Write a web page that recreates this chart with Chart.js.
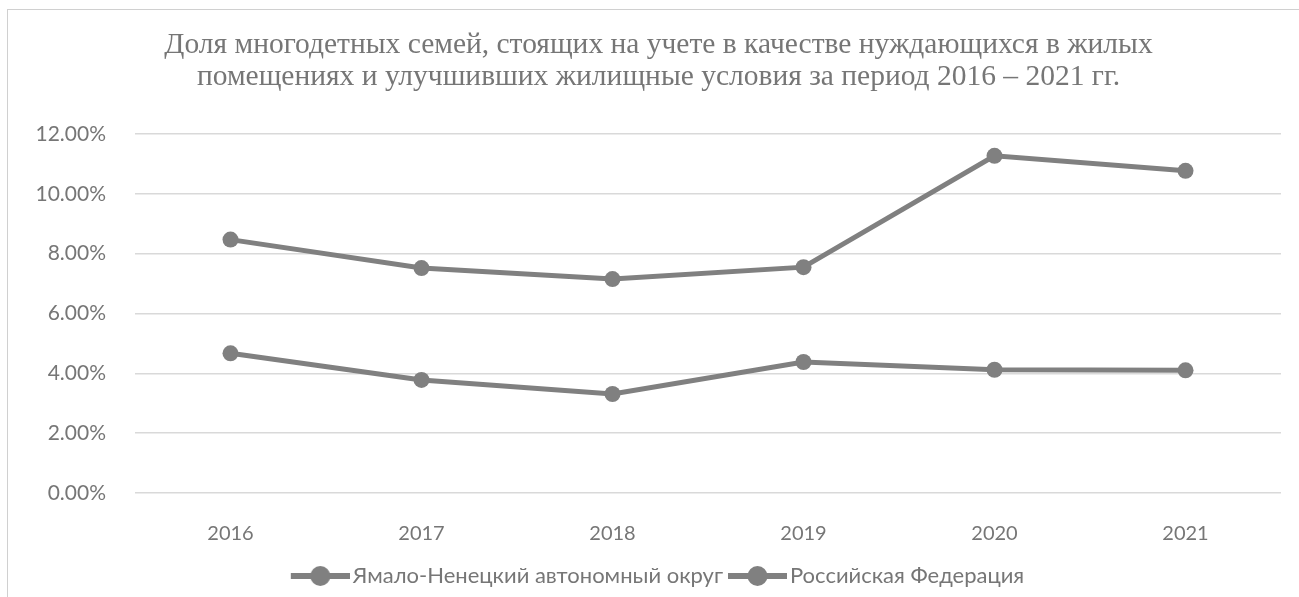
<!DOCTYPE html>
<html>
<head>
<meta charset="utf-8">
<script src="https://cdn.jsdelivr.net/npm/chart.js@4/dist/chart.umd.min.js"></script>
<style>
  html, body { margin: 0; padding: 0; background: #fff; }
  canvas { display: block; }
</style>
</head>
<body>
<canvas id="diagramm" width="1299" height="597"></canvas>
<script>
const jahre = ['2016', '2017', '2018', '2019', '2020', '2021'];
const yanao = [8.47, 7.52, 7.15, 7.55, 11.27, 10.77];
const russland = [4.67, 3.78, 3.31, 4.38, 4.12, 4.1];
const serienNamen = ['Ямало-Ненецкий автономный округ', 'Российская Федерация'];
const titelZeilen = [
  'Доля многодетных семей, стоящих на учете в качестве нуждающихся в жилых',
  'помещениях и улучшивших жилищные условия за период 2016 – 2021 гг.'
];

const grau = '#808080';
const textGrau = '#767676';

// Legendensymbol: Linie mit Punkt in der Mitte (links etwas leerer Rand)
const symbol = document.createElement('canvas');
symbol.width = 65;
symbol.height = 24;
(function () {
  const c = symbol.getContext('2d');
  c.strokeStyle = grau;
  c.lineWidth = 6;
  c.beginPath();
  c.moveTo(6, 12);
  c.lineTo(65, 12);
  c.stroke();
  c.fillStyle = grau;
  c.beginPath();
  c.arc(35.5, 12, 10, 0, Math.PI * 2);
  c.fill();
})();

const rahmen = {
  id: 'rahmen',
  beforeDraw(chart) {
    const c = chart.ctx;
    c.save();
    c.fillStyle = '#fff';
    c.fillRect(0, 0, chart.width, chart.height);
    c.strokeStyle = '#d0d0d0';
    c.lineWidth = 1;
    c.strokeRect(7.5, 9.5, 1310, 600);
    c.restore();
  }
};

function linie(name, werte) {
  return {
    label: name,
    data: werte,
    borderColor: grau,
    backgroundColor: grau,
    borderWidth: 5,
    pointRadius: 8,
    pointHoverRadius: 8,
    pointBackgroundColor: grau,
    pointBorderColor: grau,
    pointBorderWidth: 0,
    tension: 0
  };
}

new Chart(document.getElementById('diagramm').getContext('2d'), {
  type: 'line',
  data: {
    labels: jahre,
    datasets: [linie(serienNamen[0], yanao), linie(serienNamen[1], russland)]
  },
  options: {
    responsive: false,
    animation: false,
    layout: { padding: { left: 36, right: 18, top: 0, bottom: 0 } },
    plugins: {
      title: {
        display: true,
        text: titelZeilen,
        color: textGrau,
        font: { family: '"Liberation Serif", "DejaVu Serif", serif', size: 29.5, weight: 'normal', lineHeight: 1.085 },
        padding: { top: 29, bottom: 41 }
      },
      legend: {
        position: 'bottom',
        labels: {
          usePointStyle: true,
          pointStyleWidth: 49,
          padding: 7,
          color: textGrau,
          font: { family: 'Lato, sans-serif', size: 22 },
          generateLabels(chart) {
            return chart.data.datasets.map((ds, i) => ({
              text: ds.label,
              fillStyle: grau,
              strokeStyle: grau,
              lineWidth: 0,
              pointStyle: symbol,
              fontColor: textGrau,
              hidden: false,
              datasetIndex: i
            }));
          }
        }
      },
      tooltip: { enabled: false }
    },
    scales: {
      x: {
        offset: true,
        grid: { display: false },
        border: { display: false },
        ticks: { color: textGrau, font: { family: 'Lato, sans-serif', size: 20 }, padding: 21 },
        afterFit(achse) { achse.height = 65; }
      },
      y: {
        min: 0,
        max: 12,
        grid: { color: '#d9d9d9', lineWidth: 1.5, drawTicks: false },
        border: { display: false },
        ticks: {
          stepSize: 2,
          color: textGrau,
          font: { family: 'Lato, sans-serif', size: 21 },
          padding: 29,
          callback: wert => wert.toFixed(2) + '%'
        },
        afterFit(achse) { achse.width = 99; }
      }
    }
  },
  plugins: [rahmen]
});
</script>
</body>
</html>
